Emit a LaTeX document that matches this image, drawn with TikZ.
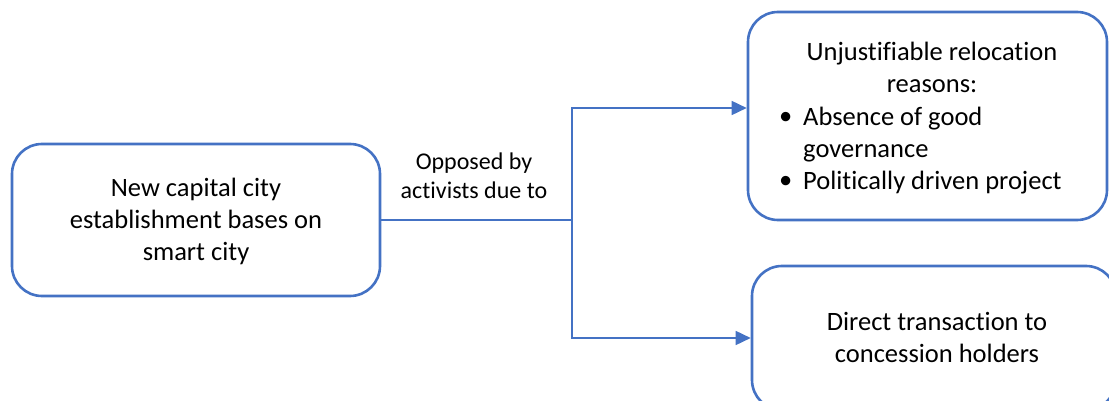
\documentclass[tikz,border=0pt]{standalone}
\usepackage{fontspec}
\setmainfont{Carlito}[Ligatures=NoCommon]
\usetikzlibrary{arrows.meta}
\definecolor{wblue}{HTML}{4472C4}
\begin{document}
\begin{tikzpicture}[x=1pt,y=-1pt,
  box/.style={draw=wblue,line width=2.6pt,rounded corners=30pt,inner sep=0pt},
  txt/.style={font=\fontsize{26.5}{32}\selectfont,text=black,inner sep=0pt,align=center},
  conn/.style={draw=wblue,line width=1.6pt},
  arr/.style={conn,-{Triangle[length=15pt,width=14pt]}}]
\useasboundingbox (0,0) rectangle (1109,401);
\clip (0,0) rectangle (1109,401);
\node[box,minimum width=368pt,minimum height=152pt] (b1) at (196,220) {};
\node[txt] (t1) at (196,221) {New capital city\\establishment bases on\\smart city};
\node[box,minimum width=359pt,minimum height=208pt] (b2) at (927.5,116) {};
\node[txt] (t2) at (932,67) {Unjustifiable relocation\\reasons:};
\node[txt,align=left,anchor=west] (l2) at (779,151) {\makebox[24pt][l]{\raisebox{1pt}{\textbullet}}Absence of good\\\hspace*{24pt}governance\\\makebox[24pt][l]{\raisebox{1pt}{\textbullet}}Politically driven project};
\node[box,minimum width=364pt,minimum height=144pt] (b3) at (934,338) {};
\node[txt] (t3) at (937,337) {Direct transaction to\\concession holders};
\node[txt,font=\fontsize{24}{28.5}\selectfont] (lab) at (474,176) {Opposed by\\activists due to};
\coordinate (j) at (572,220);
\draw[conn] (b1.east) -- (j);
\draw[arr] (j) |- ([yshift=8pt]b2.west);
\draw[arr] (j) |- (b3.west);
\end{tikzpicture}
\end{document}
